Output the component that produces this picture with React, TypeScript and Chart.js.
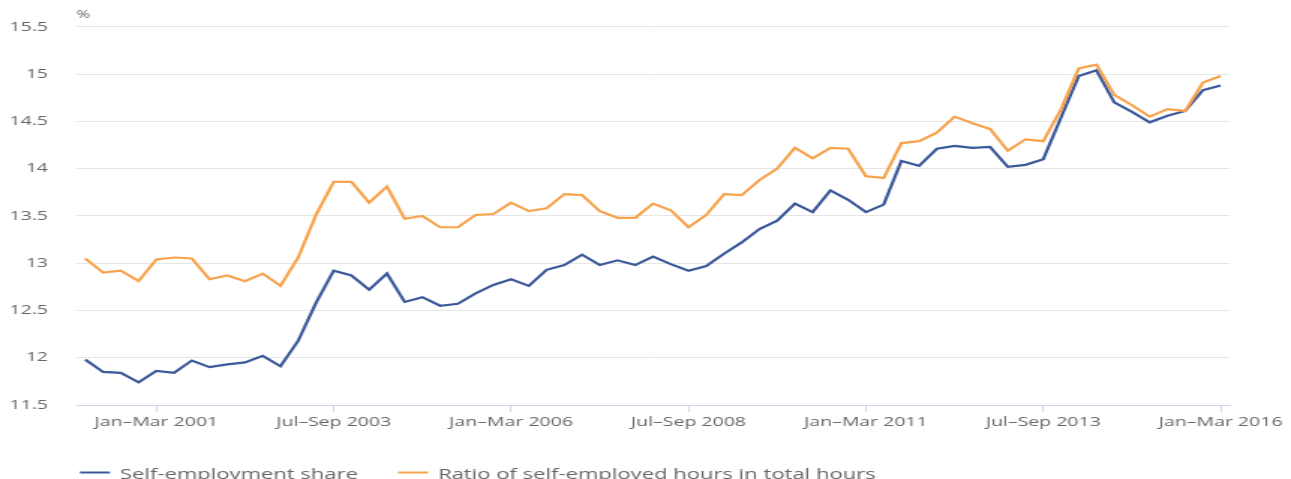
import React, { useEffect, useRef } from 'react';
import { Chart, registerables } from 'chart.js';

Chart.register(...registerables);

// ---- data ----
const QUARTERS = ['Jan–Mar', 'Apr–Jun', 'Jul–Sep', 'Oct–Dec'];
const START_YEAR = 2000;

const SELF_EMPLOYMENT_SHARE = [
  11.98, 11.85, 11.84, 11.74, 11.86, 11.84, 11.97, 11.9, 11.93, 11.95,
  12.02, 11.91, 12.18, 12.58, 12.92, 12.87, 12.72, 12.89, 12.59, 12.64,
  12.55, 12.57, 12.68, 12.77, 12.83, 12.76, 12.93, 12.98, 13.09, 12.98,
  13.03, 12.98, 13.07, 12.99, 12.92, 12.97, 13.1, 13.22, 13.36, 13.45,
  13.63, 13.54, 13.77, 13.67, 13.54, 13.62, 14.08, 14.03, 14.21, 14.24,
  14.22, 14.23, 14.02, 14.04, 14.1, 14.54, 14.98, 15.04, 14.7, 14.6,
  14.49, 14.56, 14.61, 14.83, 14.88,
];

const HOURS_RATIO = [
  13.05, 12.9, 12.92, 12.81, 13.04, 13.06, 13.05, 12.83, 12.87, 12.81,
  12.89, 12.76, 13.06, 13.51, 13.86, 13.86, 13.64, 13.81, 13.47, 13.5,
  13.38, 13.38, 13.51, 13.52, 13.64, 13.55, 13.58, 13.73, 13.72, 13.55,
  13.48, 13.48, 13.63, 13.56, 13.38, 13.51, 13.73, 13.72, 13.88, 14.0,
  14.22, 14.11, 14.22, 14.21, 13.92, 13.9, 14.27, 14.29, 14.38, 14.55,
  14.48, 14.42, 14.19, 14.31, 14.29, 14.63, 15.06, 15.1, 14.78, 14.67,
  14.55, 14.63, 14.61, 14.91, 14.98,
];

const SERIES_NAMES = ['Self-employment share', 'Ratio of self-employed hours in total hours'];
const SERIES_COLORS = ['#3b5899', '#f7a24c'];
const Y_MIN = 11.5;
const Y_MAX = 15.5;
const Y_STEP = 0.5;
const Y_UNIT = '%';
const LABEL_EVERY = 10;
const LABEL_FIRST = 4;

const LABELS = SELF_EMPLOYMENT_SHARE.map(
  (_, i) => `${QUARTERS[i % 4]} ${START_YEAR + Math.floor(i / 4)}`
);

// ---- layout (canvas drawn narrow, then stretched horizontally) ----
const OUT_W = 1291;
const OUT_H = 479;
const STRETCH = 1.5;
const W = Math.round(OUT_W / STRETCH);
const FONT = '"Open Sans", "DejaVu Sans", sans-serif';
const TEXT = '#666666';

const extras = {
  id: 'extras',
  afterDraw(chart: any) {
    const { ctx, chartArea } = chart;
    ctx.save();
    ctx.fillStyle = TEXT;
    ctx.textAlign = 'left';
    ctx.textBaseline = 'middle';
    ctx.font = `11px ${FONT}`;
    ctx.fillText(Y_UNIT, chartArea.left, 15);

    ctx.font = `14.7px ${FONT}`;
    ctx.textBaseline = 'alphabetic';
    let x = chartArea.left + 2.3;
    const lineY = 472.5;
    chart.data.datasets.forEach((ds: any) => {
      ctx.strokeStyle = ds.borderColor;
      ctx.lineWidth = 2;
      ctx.beginPath();
      ctx.moveTo(x, lineY);
      ctx.lineTo(x + 20, lineY);
      ctx.stroke();
      const tx = x + 26.7;
      ctx.fillStyle = TEXT;
      ctx.fillText(ds.label, tx, 478.5);
      x = tx + ctx.measureText(ds.label).width + 26.7;
    });
    ctx.restore();
  },
};

export default function App() {
  const ref = useRef<HTMLCanvasElement>(null);

  useEffect(() => {
    document.body.style.margin = '0';
    const canvas = ref.current!;
    const chart = new Chart(canvas, {
      type: 'line',
      data: {
        labels: LABELS,
        datasets: [
          {
            label: SERIES_NAMES[0],
            data: SELF_EMPLOYMENT_SHARE,
            borderColor: SERIES_COLORS[0],
            backgroundColor: SERIES_COLORS[0],
            borderWidth: 2.2,
            pointRadius: 0,
            tension: 0,
            order: 1,
          },
          {
            label: SERIES_NAMES[1],
            data: HOURS_RATIO,
            borderColor: SERIES_COLORS[1],
            backgroundColor: SERIES_COLORS[1],
            borderWidth: 2.2,
            pointRadius: 0,
            tension: 0,
            order: 0,
          },
        ],
      },
      options: {
        responsive: false,
        animation: false,
        devicePixelRatio: 1,
        layout: { padding: { left: 0, right: 41, top: 23, bottom: 44 } },
        plugins: {
          legend: { display: false },
          tooltip: { enabled: false },
        },
        scales: {
          x: {
            offset: true,
            grid: {
              display: true,
              offset: false,
              drawOnChartArea: false,
              drawTicks: true,
              tickLength: 7,
              tickWidth: 1,
              tickColor: (c: any) =>
                c.index % LABEL_EVERY === LABEL_FIRST ? '#ccd6eb' : 'rgba(0,0,0,0)',
            },
            border: { display: true, color: '#ccd6eb', width: 1 },
            ticks: {
              autoSkip: false,
              maxRotation: 0,
              minRotation: 0,
              padding: 2,
              color: TEXT,
              font: { family: FONT, size: 13 },
              callback: (_v: any, i: number) =>
                i % LABEL_EVERY === LABEL_FIRST ? LABELS[i] : '',
            },
            afterFit: (s: any) => {
              s.height = 30;
              s.paddingLeft = 0;
              s.paddingRight = 0;
            },
          },
          y: {
            min: Y_MIN,
            max: Y_MAX,
            grid: {
              drawTicks: false,
              color: (c: any) =>
                c.tick && c.tick.value === Y_MIN ? 'rgba(0,0,0,0)' : '#e6e6e6',
              lineWidth: 1,
            },
            border: { display: false },
            ticks: {
              stepSize: Y_STEP,
              padding: 19,
              color: TEXT,
              font: { family: FONT, size: 13 },
              callback: (v: any) => `${+v}`,
            },
            afterFit: (s: any) => {
              s.width = 51;
            },
          },
        },
      },
      plugins: [extras],
    });
    return () => chart.destroy();
  }, []);

  return (
    <div style={{ width: OUT_W, height: OUT_H, overflow: 'hidden', background: '#fff' }}>
      <canvas
        ref={ref}
        width={W}
        height={OUT_H}
        style={{ width: `${OUT_W}px`, height: `${OUT_H}px`, display: 'block' }}
      />
    </div>
  );
}
